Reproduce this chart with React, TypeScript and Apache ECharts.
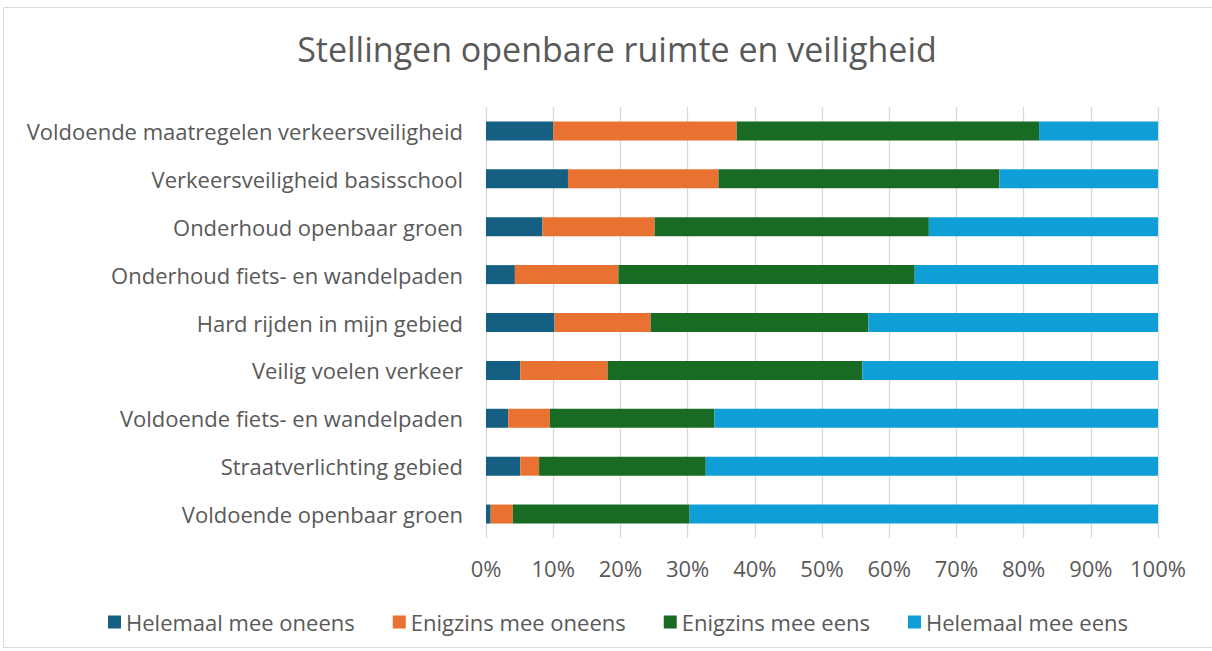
import React, { useEffect, useRef } from "react";
import * as echarts from "echarts";

const categories = [
  "Voldoende maatregelen verkeersveiligheid",
  "Verkeersveiligheid basisschool",
  "Onderhoud openbaar groen",
  "Onderhoud fiets- en wandelpaden",
  "Hard rijden in mijn gebied",
  "Veilig voelen verkeer",
  "Voldoende fiets- en wandelpaden",
  "Straatverlichting gebied",
  "Voldoende openbaar groen",
];

const seriesNames = [
  "Helemaal mee oneens",
  "Enigzins mee oneens",
  "Enigzins mee eens",
  "Helemaal mee eens",
];

const helemaalOneens = [10.0, 12.2, 8.4, 4.3, 10.2, 5.1, 3.3, 5.1, 0.7];
const enigzinsOneens = [27.3, 22.4, 16.7, 15.4, 14.3, 13.0, 6.2, 2.8, 3.3];
const enigzinsEens = [45.0, 41.8, 40.8, 44.1, 32.4, 37.9, 24.5, 24.8, 26.3];
const helemaalEens = [17.7, 23.6, 34.1, 36.2, 43.1, 44.0, 66.0, 67.3, 69.7];

const colors = ["#156082", "#E97132", "#196B24", "#0F9ED5"];

const FONT = "Open Sans";

export default function App() {
  const ref = useRef<HTMLDivElement>(null);
  useEffect(() => {
    document.body.style.margin = "0";
    const chart = echarts.init(ref.current!, undefined, { renderer: "svg" });
    const data = [helemaalOneens, enigzinsOneens, enigzinsEens, helemaalEens];
    chart.setOption({
      animation: false,
      backgroundColor: "#ffffff",
      title: {
        text: "Stellingen openbare ruimte en veiligheid",
        left: 612,
        textAlign: "center",
        top: 27,
        textStyle: {
          fontFamily: FONT,
          fontSize: 34,
          fontWeight: "normal",
          color: "#595959",
        },
      },
      graphic: [
        {
          type: "rect",
          shape: { x: 3.5, y: 7.5, width: 1215, height: 640 },
          style: { fill: "none", stroke: "#D9D9D9", lineWidth: 1 },
          silent: true,
        },
      ],
      legend: {
        top: 606,
        left: 103,
        itemWidth: 13,
        itemHeight: 13,
        itemGap: 38,
        icon: "rect",
        textStyle: { fontFamily: FONT, fontSize: 22, color: "#595959" },
        data: seriesNames,
      },
      grid: { left: 486, right: 54, top: 107, bottom: 113 },
      xAxis: {
        type: "value",
        min: 0,
        max: 100,
        interval: 10,
        axisLine: { show: false },
        axisTick: { show: false },
        splitLine: { lineStyle: { color: "#D9D9D9", width: 1.3 } },
        axisLabel: {
          formatter: "{value}%",
          fontFamily: FONT,
          fontSize: 22,
          color: "#595959",
          margin: 19,
        },
      },
      yAxis: {
        type: "category",
        inverse: true,
        data: categories,
        axisLine: { show: false },
        axisTick: { show: false },
        axisLabel: {
          fontFamily: FONT,
          fontSize: 22,
          color: "#595959",
          margin: 23,
        },
      },
      series: seriesNames.map((name, i) => ({
        name,
        type: "bar",
        stack: "total",
        barWidth: 19,
        itemStyle: { color: colors[i] },
        data: data[i],
      })),
    });
    return () => chart.dispose();
  }, []);
  return <div ref={ref} style={{ width: 1212, height: 651 }} />;
}
